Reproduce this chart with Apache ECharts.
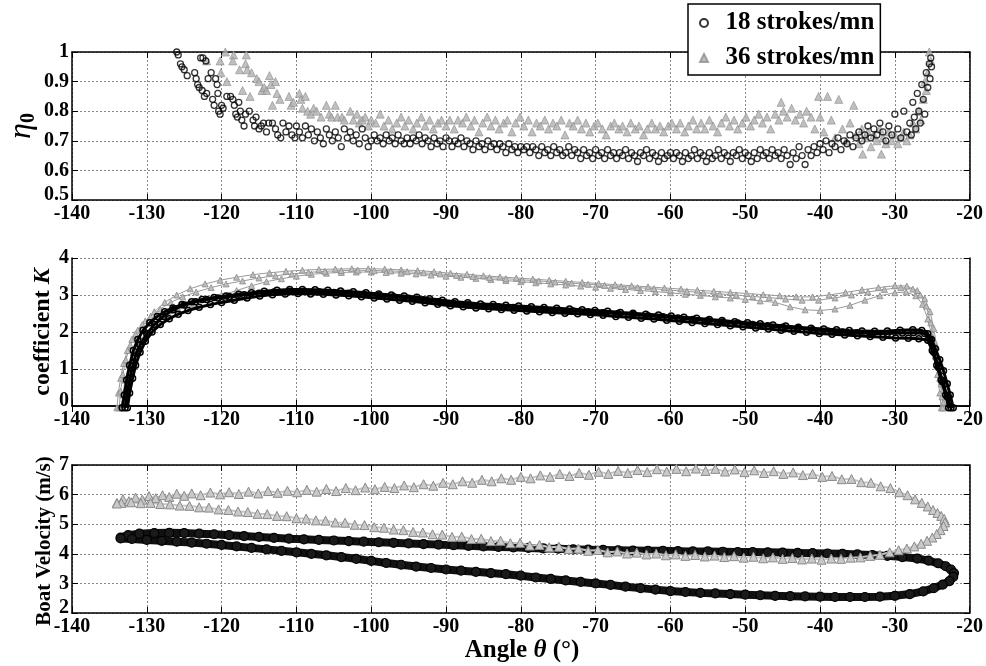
<!DOCTYPE html>
<html><head><meta charset="utf-8">
<script src="https://cdn.jsdelivr.net/npm/echarts@6/dist/echarts.min.js"></script>
<style>html,body{margin:0;padding:0;background:#fff}#c{width:986px;height:666px}</style>
</head><body><div id="c"></div>
<script>
// ---------- data ----------
const xTicks = {min: -140, max: -20, step: 10};
const seriesNames = ['18 strokes/mn', '36 strokes/mn'];

// Panel 1: efficiency eta0 vs angle
const eta18 = [[-126,1.0],[-125.8,0.99],[-125.5,0.96],[-125.3,0.95],[-125,0.94],[-124.6,0.92],[-123.6,0.93],[-123.4,0.91],[-123.2,0.89],[-123,0.88],[-122.8,0.98],[-122.5,0.98],[-122.6,0.87],[-122.3,0.85],[-122.1,0.97],[-122,0.86],[-121.8,0.91],[-121.4,0.93],[-121.2,0.84],[-121,0.82],[-120.8,0.91],[-120.6,0.89],[-120.5,0.86],[-120.4,0.80],[-120.2,0.79],[-120,0.82],[-119.8,0.81],[-119.3,0.85],[-118.8,0.85],[-118.5,0.84],[-118.3,0.82],[-118.1,0.79],[-117.9,0.78],[-117.7,0.83],[-117.5,0.80],[-117.3,0.77],[-117,0.75],[-116.8,0.79],[-116.3,0.80],[-115.8,0.77],[-115.6,0.75],[-115.4,0.78],[-115,0.74],[-114.7,0.75],[-114.4,0.76],[-114,0.73],[-113.7,0.76],[-113.2,0.76],[-112.8,0.74],[-112.5,0.72],[-112.1,0.71],[-111.8,0.76],[-111.4,0.73],[-111,0.75],[-110.6,0.72],[-110.2,0.71],[-110,0.75],
[-109.6,0.73],[-109.2,0.71],[-108.8,0.75],[-108.4,0.72],[-108,0.74],[-107.6,0.70],[-107.2,0.73],[-106.8,0.71],[-106.4,0.69],[-106,0.74],[-105.6,0.72],[-105.2,0.70],[-104.8,0.73],[-104.4,0.71],[-104,0.68],[-103.6,0.74],[-103.2,0.71],[-102.8,0.73],[-102.4,0.70],[-102,0.72],[-101.6,0.69],[-101.2,0.74],[-100.8,0.71],[-100.4,0.68],[-100,0.70],
[-99.6,0.72],[-99.2,0.70],[-98.8,0.71],[-98.4,0.69],[-98,0.72],[-97.6,0.70],[-97.2,0.71],[-96.8,0.69],[-96.4,0.72],[-96,0.70],[-95.6,0.69],[-95.2,0.71],[-94.8,0.69],[-94.4,0.71],[-94,0.70],[-93.6,0.72],[-93.2,0.69],[-92.8,0.71],[-92.4,0.70],[-92,0.68],[-91.6,0.71],[-91.2,0.69],[-90.8,0.70],[-90.4,0.68],[-90,0.71],[-89.6,0.70],[-89.2,0.68],[-88.8,0.70],[-88.4,0.69],[-88,0.71],[-87.6,0.68],[-87.2,0.70],[-86.8,0.69],[-86.4,0.67],[-86,0.70],[-85.6,0.68],[-85.2,0.69],[-84.8,0.67],[-84.4,0.70],[-84,0.68],[-83.6,0.69],[-83.2,0.67],[-82.8,0.69],[-82.4,0.68],[-82,0.66],[-81.6,0.69],[-81.2,0.67],[-80.8,0.68],[-80.4,0.66],[-80,0.68],
[-79.6,0.67],[-79.2,0.68],[-78.8,0.66],[-78.4,0.68],[-78,0.67],[-77.6,0.65],[-77.2,0.68],[-76.8,0.66],[-76.4,0.67],[-76,0.65],[-75.6,0.68],[-75.2,0.66],[-74.8,0.67],[-74.4,0.65],[-74,0.66],[-73.6,0.68],[-73.2,0.65],[-72.8,0.67],[-72.4,0.66],[-72,0.64],[-71.6,0.67],[-71.2,0.65],[-70.8,0.66],[-70.4,0.64],[-70,0.67],[-69.6,0.65],[-69.2,0.66],[-68.8,0.64],[-68.4,0.67],[-68,0.65],[-67.6,0.66],[-67.2,0.64],[-66.8,0.66],[-66.4,0.65],[-66,0.67],[-65.6,0.64],[-65.2,0.66],[-64.8,0.65],[-64.4,0.63],[-64,0.66],[-63.6,0.65],[-63.2,0.67],[-62.8,0.64],[-62.4,0.66],[-62,0.65],[-61.6,0.63],[-61.2,0.66],[-60.8,0.64],[-60.4,0.65],[-60,0.66],
[-59.6,0.64],[-59.2,0.66],[-58.8,0.65],[-58.4,0.63],[-58,0.66],[-57.6,0.64],[-57.2,0.65],[-56.8,0.67],[-56.4,0.64],[-56,0.66],[-55.6,0.65],[-55.2,0.63],[-54.8,0.66],[-54.4,0.64],[-54,0.65],[-53.6,0.67],[-53.2,0.64],[-52.8,0.66],[-52.4,0.65],[-52,0.63],[-51.6,0.66],[-51.2,0.65],[-50.8,0.67],[-50.4,0.64],[-50,0.66],[-49.6,0.65],[-49.2,0.63],[-48.8,0.66],[-48.4,0.64],[-48,0.67],[-47.6,0.65],[-47.2,0.66],[-46.8,0.64],[-46.4,0.67],[-46,0.65],[-45.6,0.66],[-45.2,0.64],[-44.8,0.67],[-44.4,0.65],[-44,0.62],[-43.6,0.66],[-43.2,0.64],[-42.8,0.68],[-42.4,0.65],[-42,0.62],[-41.6,0.67],
[-41.2,0.65],[-40.8,0.68],[-40.4,0.66],[-40,0.69],[-39.6,0.67],[-39.2,0.70],[-38.8,0.66],[-38.4,0.69],[-38,0.68],[-37.6,0.71],[-37.2,0.67],[-36.8,0.70],[-36.4,0.69],[-36,0.72],[-35.6,0.68],[-35.2,0.71],[-34.8,0.73],[-34.4,0.70],[-34,0.72],[-33.6,0.75],[-33.2,0.71],[-32.8,0.74],[-32.4,0.72],[-32,0.76],[-31.6,0.73],[-31.2,0.70],[-30.8,0.75],[-30.4,0.72],[-30,0.79],[-29.6,0.74],[-29.2,0.71],[-28.8,0.80],[-28.4,0.73],[-28,0.76],[-27.8,0.72],[-27.6,0.83],[-27.4,0.78],[-27.2,0.74],[-27,0.86],[-26.8,0.80],[-26.6,0.76],[-26.4,0.89],[-26.2,0.84],[-26,0.79],[-25.8,0.93],[-25.6,0.88],[-25.4,0.96],[-25.3,0.91],[-25.2,0.98],[-25.1,0.95]];

const eta36 = [[-122,0.97],[-120.2,0.97],[-120.1,0.93],[-119.5,1.0],[-119.3,0.90],[-118.4,0.99],[-118.5,0.97],[-117.6,0.94],[-117.2,0.87],[-116.7,0.99],[-116.8,0.96],[-116.6,0.94],[-116.2,0.85],[-116,0.93],[-115.3,0.91],[-115,0.90],[-114.6,0.87],[-114.3,0.88],[-114,0.87],[-113.6,0.92],[-113.4,0.89],[-113.2,0.82],[-112.8,0.90],[-112.6,0.86],[-112.2,0.84],[-111,0.85],[-110.7,0.82],[-110.4,0.83],[-109.6,0.86],[-109.4,0.84],[-109.2,0.81],[-108.8,0.85],[-108.5,0.80],[-108.1,0.79],[-107.7,0.81],[-107.3,0.80],[-106.7,0.78],[-106,0.82],[-105.6,0.79],[-105.3,0.78],[-104.8,0.82],[-104.5,0.78],[-103.9,0.78],[-103.6,0.77],[-102.8,0.80],[-102.4,0.77],[-101.9,0.79],[-101.6,0.76],[-101.2,0.77],[-100.8,0.78],[-100.4,0.75],[-100,0.77],
[-99.4,0.76],[-98.8,0.79],[-98.3,0.75],[-97.7,0.77],[-97.2,0.74],[-96.6,0.76],[-96,0.78],[-95.5,0.75],[-95,0.77],[-94.4,0.74],[-93.9,0.76],[-93.3,0.78],[-92.8,0.75],[-92.2,0.77],[-91.7,0.74],[-91.1,0.76],[-90.6,0.77],[-90,0.75],[-89.5,0.77],[-88.9,0.74],[-88.4,0.77],[-87.8,0.76],[-87.3,0.78],[-86.7,0.75],[-86.2,0.77],[-85.6,0.73],[-85.1,0.76],[-84.5,0.78],[-84,0.75],[-83.4,0.77],[-82.9,0.74],[-82.3,0.76],[-81.8,0.77],[-81.2,0.73],[-80.7,0.76],[-80.1,0.78],[-79.6,0.75],[-79,0.77],[-78.5,0.73],[-77.9,0.76],[-77.4,0.75],[-76.8,0.77],[-76.3,0.74],[-75.7,0.76],[-75.2,0.75],[-74.6,0.77],[-74.1,0.72],[-73.5,0.76],[-73,0.75],[-72.4,0.77],[-71.9,0.74],[-71.3,0.76],[-70.8,0.73],[-70.2,0.75],[-69.7,0.76],[-69.1,0.74],[-68.6,0.72],[-68,0.75],[-67.5,0.76],[-66.9,0.74],[-66.4,0.75],[-65.8,0.73],[-65.3,0.76],[-64.7,0.74],[-64.2,0.75],[-63.6,0.72],[-63.1,0.74],[-62.5,0.76],[-62,0.74],[-61.4,0.75],[-60.9,0.73],[-60.3,0.75],[-59.8,0.76],
[-59.2,0.74],[-58.7,0.76],[-58.1,0.73],[-57.6,0.75],[-57,0.77],[-56.5,0.74],[-55.9,0.76],[-55.4,0.74],[-54.8,0.77],[-54.3,0.75],[-53.7,0.73],[-53.2,0.76],[-52.6,0.78],[-52.1,0.75],[-51.5,0.77],[-51,0.74],[-50.4,0.76],[-49.9,0.78],[-49.3,0.75],[-48.8,0.77],[-48.2,0.79],[-47.7,0.76],[-47.1,0.78],[-46.6,0.74],[-46,0.79],[-45.5,0.77],[-45.2,0.83],[-44.9,0.80],[-44.4,0.78],[-43.8,0.81],[-43.3,0.77],[-42.7,0.79],[-42.2,0.76],[-41.8,0.80],[-41.2,0.78],[-40.7,0.74],[-40.2,0.85],[-40,0.78],[-39.5,0.73],[-39,0.85],
[-38.5,0.77],[-38,0.71],[-37.5,0.84],[-37,0.74],[-36.5,0.70],[-36,0.76],[-35.5,0.82],[-35.2,0.72],[-34.8,0.69],[-34.4,0.74],[-34.3,0.655],[-34,0.71],[-33.6,0.73],[-33.2,0.68],[-32.8,0.72],[-32.4,0.70],[-32,0.74],[-31.8,0.655],[-31.6,0.71],[-31.2,0.69],[-30.8,0.73],[-30.4,0.70],[-30,0.72],[-29.6,0.69],[-29.2,0.71],[-28.8,0.73],[-28.4,0.70],[-28,0.72],[-27.6,0.76],[-27.2,0.74],[-26.8,0.80],[-26.5,0.77],[-26.2,0.84],[-26,0.90],[-25.8,0.87],[-25.6,0.93],[-25.4,1.0],[-25.2,0.97]];

// Panel 2: coefficient K, several strokes per rate
const k18a = [[-133.3,-0.05],[-133,0.3],[-132.7,0.7],[-132.3,1.1],[-131.8,1.5],[-131.2,1.8],[-130.5,2.05],[-129.6,2.25],[-128.6,2.42],[-127.6,2.55],[-126.5,2.65],[-125.3,2.74],[-124,2.82],[-122.6,2.88],[-121,2.93],[-119.4,2.97],[-117.7,3.02],[-116,3.06],[-114.3,3.1],[-112.6,3.13],[-110.9,3.15],[-109.2,3.15],[-107.5,3.14],[-105.8,3.13],[-104.1,3.11],[-102.4,3.09],[-100.7,3.06],[-99,3.03],[-97.3,3.0],[-95.6,2.97],[-93.9,2.94],[-92.2,2.9],[-90.5,2.86],[-88.8,2.82],[-87.1,2.79],[-85.4,2.76],[-83.7,2.74],[-82,2.72],[-80.3,2.7],[-78.6,2.68],[-76.9,2.66],[-75.2,2.64],[-73.5,2.62],[-71.8,2.6],[-70.1,2.58],[-68.4,2.56],[-66.7,2.53],[-65,2.51],[-63.3,2.48],[-61.6,2.46],[-59.9,2.43],[-58.2,2.4],[-56.5,2.37],[-54.8,2.34],[-53.1,2.31],[-51.4,2.28],[-49.7,2.25],[-48,2.22],[-46.3,2.19],[-44.6,2.16],[-42.9,2.13],[-41.2,2.1],[-39.5,2.08],[-37.8,2.06],[-36.1,2.04],[-34.4,2.03],[-32.7,2.02],[-31,2.03],[-29.3,2.05],[-27.6,2.06],[-26.4,2.04],[-25.6,1.95],[-25.1,1.8],[-24.6,1.55],[-24,1.25],[-23.5,0.95],[-23,0.6],[-22.6,0.3],[-22.2,-0.05]];
const k18b = [[-132.6,-0.05],[-132.3,0.35],[-131.9,0.75],[-131.5,1.1],[-130.9,1.45],[-130.2,1.75],[-129.3,2.0],[-128.2,2.2],[-127,2.36],[-125.8,2.48],[-124.5,2.58],[-123,2.67],[-121.5,2.74],[-120,2.8],[-118.3,2.86],[-116.6,2.92],[-114.9,2.97],[-113.2,3.01],[-111.5,3.03],[-109.8,3.04],[-108.1,3.03],[-106.4,3.02],[-104.7,3.0],[-103,2.98],[-101.3,2.95],[-99.6,2.92],[-97.9,2.89],[-96.2,2.86],[-94.5,2.83],[-92.8,2.79],[-91.1,2.75],[-89.4,2.71],[-87.7,2.68],[-86,2.65],[-84.3,2.63],[-82.6,2.61],[-80.9,2.59],[-79.2,2.57],[-77.5,2.55],[-75.8,2.53],[-74.1,2.51],[-72.4,2.49],[-70.7,2.47],[-69,2.45],[-67.3,2.42],[-65.6,2.4],[-63.9,2.37],[-62.2,2.35],[-60.5,2.32],[-58.8,2.29],[-57.1,2.26],[-55.4,2.23],[-53.7,2.2],[-52,2.17],[-50.3,2.14],[-48.6,2.11],[-46.9,2.08],[-45.2,2.05],[-43.5,2.02],[-41.8,1.99],[-40.1,1.96],[-38.4,1.94],[-36.7,1.92],[-35,1.9],[-33.3,1.88],[-31.6,1.86],[-29.9,1.84],[-28.2,1.83],[-26.8,1.82],[-25.6,1.78],[-25,1.5],[-24.4,1.1],[-23.8,0.7],[-23.2,0.3],[-22.8,-0.05]];
const k18c = [[-132.9,-0.05],[-132.6,0.4],[-132.1,0.9],[-131.6,1.3],[-130.9,1.65],[-130,1.95],[-129,2.2],[-127.8,2.42],[-126.5,2.6],[-125,2.73],[-123.5,2.82],[-122,2.88],[-120.5,2.92],[-119,2.96],[-117,3.01],[-115,3.05],[-113,3.08],[-111,3.1],[-109,3.1],[-107,3.09],[-105,3.07],[-103,3.05],[-101,3.02],[-99,2.98],[-97,2.95],[-95,2.91],[-93,2.87],[-91,2.82],[-89,2.77],[-87,2.73],[-85,2.7],[-83,2.68],[-81,2.66],[-79,2.63],[-77,2.61],[-75,2.59],[-73,2.57],[-71,2.55],[-69,2.52],[-67,2.5],[-65,2.47],[-63,2.44],[-61,2.41],[-59,2.38],[-57,2.34],[-55,2.31],[-53,2.27],[-51,2.24],[-49,2.2],[-47,2.17],[-45,2.13],[-43,2.1],[-41,2.06],[-39,2.03],[-37,2.0],[-35,1.98],[-33,1.96],[-31,1.96],[-29,1.97],[-27.5,1.98],[-26,1.96],[-25.3,1.8],[-24.8,1.45],[-24.2,1.05],[-23.6,0.65],[-23,0.25],[-22.5,-0.05]];
const k36a = [[-134,-0.05],[-133.8,0.35],[-133.5,0.75],[-133.1,1.15],[-132.6,1.5],[-132,1.8],[-131.2,2.05],[-130.2,2.3],[-129,2.55],[-127.6,2.8],[-126,3.0],[-124.2,3.17],[-122.2,3.3],[-120.2,3.4],[-118,3.48],[-115.8,3.55],[-113.6,3.6],[-111.4,3.64],[-109.2,3.67],[-107,3.69],[-104.8,3.7],[-102.6,3.71],[-100.4,3.71],[-98.2,3.7],[-96,3.68],[-93.8,3.66],[-91.6,3.63],[-89.4,3.59],[-87.2,3.56],[-85,3.52],[-82.8,3.49],[-80.6,3.46],[-78.4,3.43],[-76.2,3.4],[-74,3.37],[-71.8,3.34],[-69.6,3.31],[-67.4,3.28],[-65.2,3.25],[-63,3.22],[-60.8,3.19],[-58.6,3.16],[-56.4,3.13],[-54.2,3.1],[-52,3.07],[-49.8,3.04],[-47.6,3.01],[-45.4,2.98],[-43.2,2.95],[-41,2.95],[-38.8,3.0],[-36.6,3.07],[-34.4,3.14],[-32.2,3.2],[-30,3.25],[-28.4,3.24],[-27,3.12],[-26,2.9],[-25.3,2.55],[-24.8,2.1],[-24.4,1.6],[-24.1,1.1],[-23.8,0.6],[-23.5,0.1],[-23.4,-0.05]];
const k36b = [[-133.4,-0.05],[-133.2,0.3],[-132.9,0.7],[-132.4,1.1],[-131.8,1.45],[-131,1.75],[-130,2.0],[-128.8,2.22],[-127.4,2.42],[-125.8,2.6],[-124,2.75],[-122,2.88],[-120,3.0],[-118,3.12],[-116,3.25],[-114,3.36],[-112,3.44],[-110,3.51],[-108,3.56],[-106,3.59],[-104,3.61],[-102,3.62],[-100,3.62],[-98,3.61],[-96,3.59],[-94,3.57],[-92,3.54],[-90,3.51],[-88,3.48],[-86,3.45],[-84,3.42],[-82,3.39],[-80,3.36],[-78,3.33],[-76,3.3],[-74,3.27],[-72,3.24],[-70,3.21],[-68,3.18],[-66,3.15],[-64,3.12],[-62,3.09],[-60,3.06],[-58,3.02],[-56,2.99],[-54,2.95],[-52,2.92],[-50,2.88],[-48,2.84],[-46,2.8],[-44,2.68],[-42,2.6],[-40,2.58],[-38,2.62],[-36,2.72],[-34,2.86],[-32,2.98],[-30,3.06],[-28.5,3.08],[-27.2,2.98],[-26.3,2.75],[-25.6,2.35],[-25,1.85],[-24.6,1.35],[-24.3,0.85],[-24,0.35],[-23.8,-0.05]];
const k36c = [[-133.7,-0.05],[-133.5,0.4],[-133.2,0.85],[-132.8,1.25],[-132.2,1.65],[-131.5,1.95],[-130.6,2.2],[-129.5,2.42],[-128.2,2.62],[-126.8,2.8],[-125.2,2.95],[-123.4,3.08],[-121.4,3.2],[-119.4,3.3],[-117.2,3.38],[-115,3.46],[-112.8,3.52],[-110.6,3.57],[-108.4,3.61],[-106.2,3.64],[-104,3.66],[-101.8,3.67],[-99.6,3.66],[-97.4,3.65],[-95.2,3.63],[-93,3.6],[-90.8,3.57],[-88.6,3.53],[-86.4,3.5],[-84.2,3.47],[-82,3.44],[-79.8,3.41],[-77.6,3.38],[-75.4,3.35],[-73.2,3.32],[-71,3.29],[-68.8,3.26],[-66.6,3.23],[-64.4,3.2],[-62.2,3.17],[-60,3.13],[-57.8,3.1],[-55.6,3.06],[-53.4,3.03],[-51.2,3.0],[-49,2.96],[-46.8,2.93],[-44.6,2.89],[-42.4,2.86],[-40.2,2.86],[-38,2.92],[-35.8,3.0],[-33.6,3.08],[-31.4,3.15],[-29.2,3.2],[-27.6,3.16],[-26.6,3.0],[-25.8,2.7],[-25.2,2.25],[-24.7,1.75],[-24.3,1.25],[-24,0.75],[-23.7,0.25],[-23.6,-0.05]];

// Panel 3: boat velocity (m/s) loops
const vel18 = [[-133.5,4.55],[-132.5,4.63],[-131,4.68],[-129,4.7],[-127,4.71],[-125,4.7],[-123,4.68],[-121,4.66],[-119,4.63],[-117,4.6],[-115,4.57],[-113,4.54],[-111,4.51],[-109,4.49],[-107,4.47],[-105,4.45],[-103,4.43],[-101,4.41],[-99,4.39],[-97,4.37],[-95,4.35],[-93,4.33],[-91,4.31],[-89,4.29],[-87,4.27],[-85,4.25],[-83,4.23],[-81,4.22],[-79,4.2],[-77,4.18],[-75,4.17],[-73,4.15],[-71,4.14],[-69,4.13],[-67,4.12],[-65,4.11],[-63,4.1],[-61,4.1],[-59,4.09],[-57,4.08],[-55,4.08],[-53,4.07],[-51,4.06],[-49,4.06],[-47,4.05],[-45,4.04],[-43,4.03],[-41,4.02],[-39,4.01],[-37,4.0],[-35,3.98],[-33,3.96],[-31,3.93],[-29,3.89],[-27,3.84],[-25.5,3.77],[-24.2,3.68],[-23.2,3.58],[-22.5,3.47],[-22.1,3.35],[-22.2,3.22],[-22.7,3.08],[-23.6,2.96],[-24.8,2.84],[-26.2,2.73],[-28,2.64],[-30,2.58],[-32,2.55],[-34,2.54],[-36,2.54],[-38,2.54],[-40,2.55],[-42,2.56],[-44,2.57],[-46,2.58],[-48,2.6],[-50,2.62],[-52,2.64],[-54,2.66],[-56,2.68],[-58,2.71],[-60,2.74],[-62,2.79],[-64,2.84],[-66,2.89],[-68,2.95],[-70,3.0],[-72,3.05],[-74,3.1],[-76,3.15],[-78,3.2],[-80,3.26],[-82,3.31],[-84,3.35],[-86,3.39],[-88,3.43],[-90,3.47],[-92,3.52],[-94,3.57],[-96,3.63],[-98,3.69],[-100,3.76],[-102,3.83],[-104,3.89],[-106,3.95],[-108,4.0],[-110,4.05],[-112,4.1],[-114,4.15],[-116,4.2],[-118,4.25],[-120,4.3],[-122,4.34],[-124,4.38],[-126,4.41],[-128,4.44],[-130,4.47],[-132,4.5],[-133.5,4.52]];
const vel36 = [[-134,5.72],[-133.2,5.85],[-132.4,5.78],[-131.5,5.9],[-130.6,5.83],[-129.7,5.95],[-128.8,5.88],[-127.9,5.98],[-127,5.92],[-126,6.03],[-125,5.96],[-124,6.04],[-122.8,5.98],[-121.5,6.07],[-120.2,6.01],[-119,6.08],[-117.7,6.02],[-116.4,6.1],[-115.1,6.04],[-113.8,6.12],[-112.5,6.06],[-111.2,6.13],[-109.9,6.08],[-108.6,6.16],[-107.3,6.1],[-106,6.19],[-104.7,6.12],[-103.4,6.22],[-102.1,6.15],[-100.8,6.24],[-99.5,6.18],[-98.2,6.26],[-96.9,6.22],[-95.6,6.31],[-94.3,6.25],[-93,6.35],[-91.7,6.3],[-90.4,6.4],[-89.1,6.35],[-87.8,6.45],[-86.5,6.4],[-85.2,6.5],[-83.9,6.45],[-82.6,6.55],[-81.3,6.5],[-80,6.6],[-78.7,6.55],[-77.4,6.65],[-76.1,6.6],[-74.8,6.7],[-73.5,6.63],[-72.2,6.73],[-70.9,6.67],[-69.6,6.77],[-68.3,6.7],[-67,6.8],[-65.7,6.73],[-64.4,6.83],[-63.1,6.76],[-61.8,6.86],[-60.5,6.78],[-59.2,6.87],[-57.9,6.79],[-56.6,6.88],[-55.3,6.8],[-54,6.87],[-52.7,6.78],[-51.4,6.85],[-50.1,6.76],[-48.8,6.82],[-47.5,6.73],[-46.2,6.79],[-44.9,6.7],[-43.6,6.75],[-42.3,6.66],[-41,6.7],[-39.7,6.6],[-38.4,6.63],[-37.1,6.52],[-35.8,6.53],[-34.5,6.42],[-33.2,6.4],[-31.9,6.28],[-30.6,6.22],[-29.4,6.08],[-28.3,5.98],[-27.3,5.84],[-26.4,5.72],[-25.6,5.6],[-24.9,5.48],[-24.3,5.38],[-23.8,5.28],[-23.4,5.18],[-23.3,5.06],[-23.5,4.94],[-23.9,4.8],[-24.4,4.67],[-25,4.55],[-25.7,4.44],[-26.5,4.34],[-27.4,4.25],[-28.4,4.18],[-29.5,4.12],[-30.7,4.05],[-32,3.97],[-33.3,3.93],[-34.6,3.88],[-35.9,3.87],[-37.2,3.83],[-38.5,3.84],[-39.8,3.8],[-41.1,3.84],[-42.4,3.81],[-43.7,3.86],[-45,3.83],[-46.3,3.88],[-47.6,3.85],[-48.9,3.9],[-50.2,3.87],[-51.5,3.92],[-52.8,3.89],[-54.1,3.94],[-55.4,3.91],[-56.7,3.96],[-58,3.93],[-59.3,3.98],[-60.6,3.95],[-61.9,4.01],[-63.2,3.98],[-64.5,4.04],[-65.8,4.01],[-67.1,4.08],[-68.4,4.05],[-69.7,4.13],[-71,4.1],[-72.3,4.18],[-73.6,4.16],[-74.9,4.24],[-76.2,4.22],[-77.5,4.3],[-78.8,4.28],[-80.1,4.37],[-81.4,4.36],[-82.7,4.44],[-84,4.43],[-85.3,4.51],[-86.6,4.5],[-87.9,4.58],[-89.2,4.57],[-90.5,4.65],[-91.8,4.66],[-93.1,4.72],[-94.4,4.74],[-95.7,4.8],[-97,4.82],[-98.3,4.88],[-99.6,4.9],[-100.9,4.97],[-102.2,4.98],[-103.5,5.05],[-104.8,5.06],[-106.1,5.12],[-107.4,5.13],[-108.7,5.19],[-110,5.2],[-111.3,5.27],[-112.6,5.28],[-113.9,5.34],[-115.2,5.35],[-116.5,5.41],[-117.8,5.43],[-119.1,5.48],[-120.4,5.5],[-121.7,5.56],[-123,5.57],[-124.3,5.62],[-125.6,5.63],[-126.9,5.67],[-128.2,5.68],[-129.5,5.72],[-130.8,5.71],[-132.1,5.74],[-133.4,5.72],[-134,5.7]];

const yRanges = [{min:0.5,max:1,step:0.1},{min:0,max:4,step:1},{min:2,max:7,step:1}];

// ---------- chart ----------
const FONT = 'Liberation Serif';
const grids = [{top:52},{top:258},{top:465}].map(g => ({left:72, right:10, top:g.top, height:148}));
const axisLineS = {show:true, lineStyle:{color:'#000', width:1.5}};
const tickS = {show:true, inside:true, length:6, lineStyle:{color:'#000', width:1}};
const splitS = {show:true, lineStyle:{color:'#8a8a8a', width:1, type:[2,2]}};
const labelS = {color:'#000', fontFamily:FONT, fontWeight:'bold', fontSize:20};

const xAxes = [], yAxes = [];
for (let i = 0; i < 3; i++) {
  const r = yRanges[i];
  xAxes.push({type:'value', gridIndex:i, position:'bottom', min:xTicks.min, max:xTicks.max, interval:xTicks.step,
    axisLine:axisLineS, axisTick:tickS, splitLine:splitS,
    axisLabel:Object.assign({margin:4}, labelS)});
  yAxes.push({type:'value', gridIndex:i, position:'left', min:r.min, max:r.max, interval:r.step,
    axisLine:axisLineS, axisTick:tickS, splitLine:splitS,
    axisLabel:Object.assign({margin:3,
      formatter: v => { const s = String(Math.round(v * 100) / 100); return Math.abs(v - r.min) < 1e-9 ? '{m|' + s + '}' : s; },
      rich:{m:{fontFamily:FONT, fontWeight:'bold', fontSize:20, color:'#000', padding:[0,0,10,0]}}}, labelS)});
}
for (let i = 0; i < 3; i++) {
  xAxes.push({type:'value', gridIndex:i, position:'top', min:xTicks.min, max:xTicks.max, interval:xTicks.step,
    axisLine:axisLineS, axisTick:tickS, splitLine:{show:false}, axisLabel:{show:false}});
  yAxes.push({type:'value', gridIndex:i, position:'right', min:yRanges[i].min, max:yRanges[i].max, interval:yRanges[i].step,
    axisLine:axisLineS, axisTick:tickS, splitLine:{show:false}, axisLabel:{show:false}});
}

const blackCircle = {color:'rgba(255,255,255,0)', borderColor:'#000', borderWidth:1.3};
const grayTri = {color:'#b0b0b0', borderColor:'#8e8e8e', borderWidth:0.8};

const series = [
  {name:seriesNames[0], type:'scatter', xAxisIndex:0, yAxisIndex:0, data:eta18, symbol:'circle', symbolSize:6, itemStyle:blackCircle, z:3, clip:false},
  {name:seriesNames[1], type:'scatter', xAxisIndex:0, yAxisIndex:0, data:eta36, symbol:'triangle', symbolSize:8, itemStyle:grayTri, z:2, clip:false},
];
[k36a, k36b, k36c].forEach(d => series.push({name:seriesNames[1], type:'line', xAxisIndex:1, yAxisIndex:1, data:d,
  symbol:'triangle', symbolSize:6, showSymbol:true, itemStyle:{color:'#bdbdbd', borderColor:'#8a8a8a', borderWidth:0.8},
  lineStyle:{color:'#9a9a9a', width:1}, z:2, clip:false}));
[k18a, k18b, k18c].forEach(d => series.push({name:seriesNames[0], type:'line', xAxisIndex:1, yAxisIndex:1, data:d,
  symbol:'circle', symbolSize:6, showSymbol:true, itemStyle:{color:'rgba(255,255,255,0)', borderColor:'#000', borderWidth:1.5},
  lineStyle:{color:'#000', width:3}, z:3, clip:false}));
series.push({name:seriesNames[0], type:'line', xAxisIndex:2, yAxisIndex:2, data:vel18,
  symbol:'circle', symbolSize:9, showSymbol:true, itemStyle:{color:'#1a1a1a', borderColor:'#000', borderWidth:1.2},
  lineStyle:{color:'#111', width:8}, z:3});
series.push({name:seriesNames[1], type:'line', xAxisIndex:2, yAxisIndex:2, data:vel36,
  symbol:'triangle', symbolSize:9, showSymbol:true, itemStyle:{color:'#c9c9c9', borderColor:'#8a8a8a', borderWidth:1},
  lineStyle:{color:'#c4c4c4', width:2}, z:4});

const titleFont = {fontFamily:FONT, fontWeight:'bold', fill:'#000'};
const chart = echarts.init(document.getElementById('c'), null, {renderer:'canvas'});
chart.setOption({
  animation:false,
  backgroundColor:'#fff',
  grid:grids, xAxis:xAxes, yAxis:yAxes, series:series,
  legend:{data:[{name:seriesNames[0], icon:'circle'}, {name:seriesNames[1], icon:'triangle'}],
    orient:'vertical', left:688, top:4, padding:[4,6,2,11], itemGap:5,
    itemWidth:8, itemHeight:8, backgroundColor:'#fff', borderColor:'#000', borderWidth:1.5, z:20,
    formatter: n => '  ' + n,
    textStyle:{fontFamily:FONT, fontWeight:'bold', fontSize:25, color:'#000', lineHeight:30}},
  graphic:[
    {type:'text', x:22, y:126, rotation:Math.PI/2, z:10, style:{text:'{a|η}{b|0}', align:'center', verticalAlign:'middle',
      rich:{a:{fontFamily:FONT, fontStyle:'italic', fontSize:32, fill:'#000', lineHeight:36},
            b:{fontFamily:FONT, fontWeight:'bold', fontSize:20, fill:'#000', lineHeight:36, padding:[14,0,0,0]}}}},
    {type:'text', x:43, y:332, rotation:Math.PI/2, z:10, style:{text:'{n|coefficient }{k|K}', align:'center', verticalAlign:'middle',
      rich:{n:Object.assign({fontSize:24}, titleFont), k:Object.assign({fontSize:24, fontStyle:'italic'}, titleFont)}}},
    {type:'text', x:45, y:541, rotation:Math.PI/2, z:10, style:Object.assign({text:'Boat Velocity (m/s)', fontSize:21, align:'center', verticalAlign:'middle'}, titleFont)},
    {type:'text', x:522, y:651, z:10, style:{text:'{n|Angle }{t|θ}{n| (°)}', align:'center', verticalAlign:'middle',
      rich:{n:Object.assign({fontSize:25}, titleFont), t:Object.assign({fontSize:25, fontStyle:'italic'}, titleFont)}}}
  ]
});
</script></body></html>
